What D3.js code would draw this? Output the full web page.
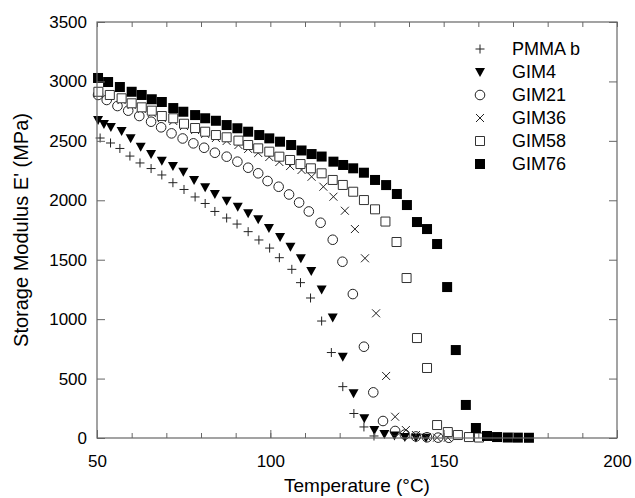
<!DOCTYPE html>
<html>
<head>
<meta charset="utf-8">
<script src="https://cdn.jsdelivr.net/npm/d3@7"></script>
<style>
  body { margin: 0; background: #fff; }
  svg text { font-family: "Liberation Sans", Arial, Helvetica, sans-serif; fill: #000; }
</style>
</head>
<body>
<div id="chart"></div>
<script>
// storage modulus E' (MPa) vs temperature (°C)
const pmmaT = [50.9, 53.9, 56.6, 59.5, 62.4, 65.6, 68.7, 71.9, 75.1, 78.3, 81.2, 84.0, 87.4, 90.4, 93.6, 96.7, 99.8, 102.6, 106.2, 108.7, 111.6, 114.8, 117.6, 120.9, 124.1, 127.0, 129.9];
const pmmaE = [2524, 2482, 2436, 2372, 2314, 2267, 2213, 2148, 2091, 2028, 1973, 1906, 1851, 1800, 1736, 1666, 1598, 1517, 1419, 1307, 1178, 984, 719, 432, 206, 93, 17];

const gim4T = [50.3, 52.0, 54.0, 57.1, 59.7, 62.6, 65.6, 68.7, 71.9, 74.9, 78.0, 81.2, 84.0, 87.4, 90.6, 93.6, 96.5, 99.6, 102.8, 105.8, 108.8, 111.8, 114.8, 118.0, 120.9, 124.0, 127.1, 130.0, 132.9, 135.8, 138.8, 142.0, 144.9];
const gim4E = [2675, 2642, 2616, 2583, 2521, 2451, 2389, 2333, 2288, 2240, 2171, 2109, 2053, 1996, 1946, 1890, 1840, 1767, 1691, 1609, 1512, 1405, 1249, 1014, 684, 376, 166, 67, 34, 21, 8, 4, 3];

const gim21T = [50.3, 52.8, 55.9, 59.0, 62.2, 65.6, 68.5, 71.5, 74.7, 77.8, 80.9, 84.0, 87.4, 90.5, 93.6, 96.5, 99.2, 102.4, 105.4, 108.3, 111.1, 114.5, 118.0, 120.8, 123.8, 127.0, 129.7, 132.5, 136.0, 138.8, 142.0, 145.2, 148.4, 151.5];
const gim21E = [2886, 2844, 2793, 2754, 2709, 2661, 2614, 2563, 2520, 2479, 2442, 2400, 2367, 2325, 2274, 2227, 2162, 2114, 2049, 1981, 1906, 1811, 1668, 1483, 1211, 768, 384, 143, 59, 29, 13, 6, 3, 2];

const gim36T = [50.3, 53.7, 57.1, 60.0, 62.9, 65.8, 68.7, 72.0, 75.1, 78.3, 81.2, 84.3, 87.4, 90.8, 93.6, 96.5, 99.7, 102.6, 105.7, 109.0, 111.9, 115.3, 118.2, 121.5, 124.4, 127.3, 130.5, 133.4, 136.0, 139.1, 142.0, 145.2, 148.1, 151.2];
const gim36E = [2903, 2877, 2843, 2802, 2768, 2734, 2692, 2667, 2625, 2591, 2558, 2524, 2499, 2465, 2432, 2398, 2364, 2322, 2288, 2255, 2198, 2114, 2030, 1912, 1758, 1512, 1049, 522, 179, 67, 25, 8, 3, 2];

const gim58T = [50.4, 53.7, 57.1, 60.0, 62.9, 65.8, 68.7, 72.0, 75.1, 78.3, 81.2, 84.3, 87.4, 90.8, 93.6, 96.5, 99.7, 102.6, 105.7, 108.7, 111.7, 114.8, 118.0, 120.9, 123.9, 127.0, 130.2, 133.2, 136.4, 139.3, 142.3, 145.2, 148.1, 151.2, 154.1, 157.3, 160.2];
const gim58E = [2913, 2886, 2858, 2816, 2782, 2754, 2709, 2690, 2644, 2608, 2577, 2549, 2530, 2502, 2465, 2437, 2409, 2367, 2339, 2305, 2269, 2227, 2171, 2129, 2072, 2002, 1924, 1821, 1649, 1346, 841, 589, 109, 50, 25, 8, 4];

const gim76T = [50.3, 53.2, 56.6, 60.0, 62.9, 65.8, 68.7, 72.0, 74.9, 78.3, 81.2, 84.3, 87.4, 90.5, 93.6, 96.8, 99.7, 102.8, 106.0, 109.0, 111.9, 114.8, 118.2, 121.0, 123.9, 127.0, 130.2, 133.4, 136.5, 139.4, 142.3, 145.2, 148.1, 151.0, 153.5, 156.4, 159.3, 162.5, 165.4, 168.5, 171.4, 174.6];
const gim76E = [3029, 2995, 2953, 2913, 2886, 2850, 2827, 2776, 2745, 2717, 2690, 2669, 2633, 2606, 2577, 2549, 2521, 2493, 2465, 2419, 2389, 2368, 2325, 2297, 2269, 2232, 2171, 2128, 2053, 1960, 1817, 1758, 1632, 1270, 740, 278, 84, 17, 8, 4, 3, 2];

const seriesNames = ['PMMA b', 'GIM4', 'GIM21', 'GIM36', 'GIM58', 'GIM76'];
const xTicks = [50, 100, 150, 200];
const yTicks = [0, 500, 1000, 1500, 2000, 2500, 3000, 3500];

const width = 635, height = 498;
const margin = {left: 97, right: 18, top: 22, bottom: 60};

const svg = d3.select('#chart').append('svg')
    .attr('width', width)
    .attr('height', height);

const x = d3.scaleLinear().domain([50, 200]).range([margin.left, width - margin.right]);
const y = d3.scaleLinear().domain([0, 3500]).range([height - margin.bottom, margin.top]);

// marker shapes, centred on 0,0
const markers = {
    plus: 'M-4.5,0H4.5M0,-4.5V4.5',
    tri: 'M-5,-4L5,-4L0,5Z',
    cross: 'M-4,-4L4,4M-4,4L4,-4',
    square: 'M-4.5,-4.5H4.5V4.5H-4.5Z'
};

const styles = [
    {type: 'plus'},
    {type: 'tri'},
    {type: 'circle'},
    {type: 'cross'},
    {type: 'square'},
    {type: 'filled'}
];

function drawMarker (g, type) {
    if (type === 'circle') {
        g.append('circle').attr('r', 4.8)
            .attr('fill', 'none').attr('stroke', '#222').attr('stroke-width', 1);
    } else if (type === 'tri') {
        g.append('path').attr('d', markers.tri).attr('fill', '#000');
    } else if (type === 'square') {
        g.append('path').attr('d', markers.square)
            .attr('fill', '#fff').attr('stroke', '#333').attr('stroke-width', 1);
    } else if (type === 'filled') {
        g.append('rect').attr('x', -5).attr('y', -5).attr('width', 10).attr('height', 10).attr('fill', '#000');
    } else {
        g.append('path').attr('d', markers[type])
            .attr('fill', 'none').attr('stroke', '#222').attr('stroke-width', 1);
    }
}

const data = [
    [pmmaT, pmmaE], [gim4T, gim4E], [gim21T, gim21E],
    [gim36T, gim36E], [gim58T, gim58E], [gim76T, gim76E]
].map(function (s, i) {
    return {
        name: seriesNames[i],
        type: styles[i].type,
        points: s[0].map(function (t, j) { return {t: t, e: s[1][j]}; })
    };
});

// points
data.forEach(function (s) {
    svg.append('g').attr('class', 'series')
        .selectAll('g')
        .data(s.points)
        .enter()
        .append('g')
        .attr('transform', function (d) { return 'translate(' + x(d.t) + ',' + y(d.e) + ')'; })
        .each(function () { drawMarker(d3.select(this), s.type); });
});

// axes: ticks point inward on all four sides
const axisColor = '#666';
const plotH = height - margin.bottom;
const fmt = d3.format('d');

const minorX = d3.range(50, 201, 10);

svg.append('g')
    .attr('transform', 'translate(0,' + plotH + ')')
    .call(d3.axisBottom(x).tickValues(minorX).tickSizeInner(-5).tickSizeOuter(0).tickFormat(''));
svg.append('g')
    .attr('transform', 'translate(0,' + plotH + ')')
    .call(d3.axisBottom(x).tickValues(xTicks).tickSizeInner(-8).tickSizeOuter(0).tickPadding(17).tickFormat(fmt))
    .selectAll('text').attr('font-size', 17);

svg.append('g')
    .attr('transform', 'translate(0,' + margin.top + ')')
    .call(d3.axisTop(x).tickValues(minorX).tickSizeInner(-5).tickSizeOuter(0).tickFormat(''));

svg.append('g')
    .attr('transform', 'translate(' + margin.left + ',0)')
    .call(d3.axisLeft(y).tickValues(yTicks).tickSizeInner(-8).tickSizeOuter(0).tickPadding(10).tickFormat(fmt))
    .selectAll('text').attr('font-size', 17);

svg.append('g')
    .attr('transform', 'translate(' + (width - margin.right) + ',0)')
    .call(d3.axisRight(y).tickValues(yTicks).tickSizeInner(-8).tickSizeOuter(0).tickFormat(''));

svg.selectAll('.domain').remove();
svg.selectAll('.tick line').attr('stroke', axisColor);

svg.append('rect')
    .attr('x', margin.left)
    .attr('y', margin.top)
    .attr('width', width - margin.right - margin.left)
    .attr('height', plotH - margin.top)
    .attr('fill', 'none')
    .attr('stroke', axisColor)
    .attr('stroke-width', 1.2);

// axis titles
svg.append('text')
    .attr('x', (margin.left + width - margin.right) / 2)
    .attr('y', 492)
    .attr('text-anchor', 'middle')
    .attr('font-size', 19)
    .text('Temperature (°C)');

svg.append('text')
    .attr('transform', 'translate(28,' + ((margin.top + plotH) / 2) + ') rotate(-90)')
    .attr('text-anchor', 'middle')
    .attr('font-size', 20)
    .text("Storage Modulus E' (MPa)");

// legend
const legend = svg.append('g').attr('class', 'legend');
data.forEach(function (s, i) {
    const row = legend.append('g').attr('transform', 'translate(480,' + (49 + i * 23) + ')');
    drawMarker(row, s.type);
    row.append('text')
        .attr('x', 32)
        .attr('dy', '0.35em')
        .attr('font-size', 18)
        .text(s.name);
});
</script>
</body>
</html>
